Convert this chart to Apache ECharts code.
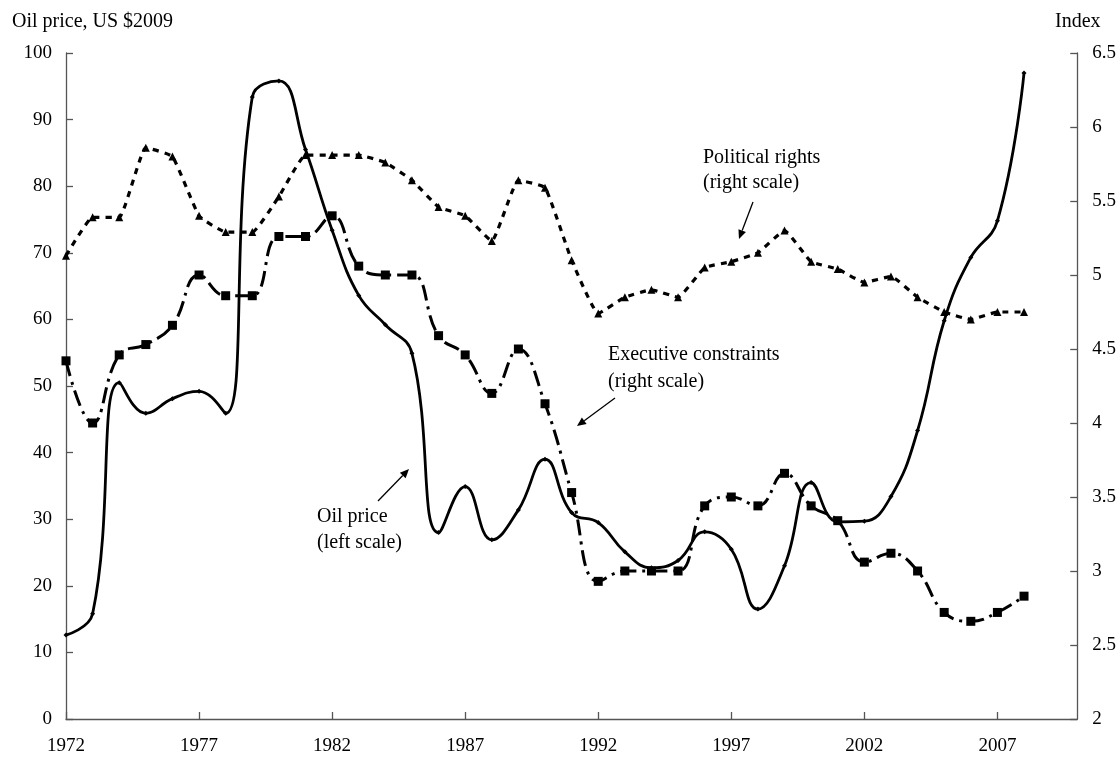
<!DOCTYPE html>
<html>
<head>
<meta charset="utf-8">
<script src="https://cdn.jsdelivr.net/npm/echarts@6/dist/echarts.min.js"></script>
<style>
  html, body { margin: 0; padding: 0; background: #fff; }
  #chart { width: 1119px; height: 757px; }
</style>
</head>
<body>
<div id="chart"></div>
<script>
// years on the axis (data stops at 2008, axis runs to 2010)
var years = []
for (var y = 1972; y <= 2010; y++) years.push(String(y))

// oil price, US $2009 (left scale)
var oilPrice = [12.6, 15.8, 50.5, 45.9, 48.1, 49.2, 45.9, 93.4, 95.8, 85.5,
  73.4, 63.6, 59.2, 54.9, 28.0, 34.9, 26.9, 31.4, 39.0, 31.0,
  29.5, 25.1, 22.7, 23.8, 28.1, 25.5, 16.5, 23.0, 35.5, 29.6,
  29.7, 33.4, 43.3, 59.8, 69.3, 74.8, 97.0]

// executive constraints index (right scale)
var execConstraints = [4.42, 4.0, 4.46, 4.53, 4.66, 5.0, 4.86, 4.86, 5.26, 5.26,
  5.40, 5.06, 5.0, 5.0, 4.59, 4.46, 4.2, 4.50, 4.13, 3.53,
  2.93, 3.0, 3.0, 3.0, 3.44, 3.5, 3.44, 3.66, 3.44, 3.34,
  3.06, 3.12, 3.0, 2.72, 2.66, 2.72, 2.83]

// political rights index (right scale)
var politicalRights = [5.13, 5.39, 5.39, 5.86, 5.80, 5.40, 5.29, 5.29, 5.53, 5.81,
  5.81, 5.81, 5.76, 5.64, 5.46, 5.40, 5.23, 5.64, 5.59, 5.10,
  4.74, 4.85, 4.90, 4.85, 5.05, 5.09, 5.15, 5.30, 5.09, 5.04,
  4.95, 4.99, 4.85, 4.75, 4.70, 4.75, 4.75]

var FONT = '"Liberation Serif", "Times New Roman", serif'
var AXIS_COLOR = '#555'

// annotation: arrow from (x1,y1) to (x2,y2)
function arrow(x1, y1, x2, y2) {
  var ang = Math.atan2(y2 - y1, x2 - x1), len = 9, w = 4
  var bx = x2 - len * Math.cos(ang), by = y2 - len * Math.sin(ang)
  return [
    { type: 'line', shape: { x1: x1, y1: y1, x2: bx, y2: by }, style: { stroke: '#000', lineWidth: 1.3 } },
    { type: 'polygon', shape: { points: [[x2, y2],
        [bx + w * Math.sin(ang), by - w * Math.cos(ang)],
        [bx - w * Math.sin(ang), by + w * Math.cos(ang)]] }, style: { fill: '#000' } }
  ]
}
function label(x, y, txt, lh) {
  return { type: 'text', x: x, y: y, style: { text: txt, font: '20px ' + FONT, fill: '#000', textAlign: 'left', textVerticalAlign: 'middle', lineHeight: lh || 25 } }
}

var chart = echarts.init(document.getElementById('chart'))

var graphics = [
  label(12, 22, 'Oil price, US $2009'),
  label(1055, 22, 'Index'),
  label(703, 170, 'Political rights\n(right scale)', 25),
  label(608, 368, 'Executive constraints\n(right scale)', 27),
  label(317, 530, 'Oil price\n(left scale)', 26)
].concat(arrow(753, 202, 739, 239))
 .concat(arrow(615, 398, 577, 426))
 .concat(arrow(378, 501, 409, 469))

var axisLine = { show: true, lineStyle: { color: AXIS_COLOR, width: 1.3 } }
var tickStyle = { color: AXIS_COLOR, width: 1.3 }

var option = {
  animation: false,
  backgroundColor: '#fff',
  grid: { left: 66, right: 41, top: 53, bottom: 38, containLabel: false },
  xAxis: {
    type: 'category',
    data: years,
    boundaryGap: false,
    axisLine: axisLine,
    axisTick: { show: true, inside: true, length: 7, interval: 4, lineStyle: tickStyle },
    axisLabel: { color: '#000', fontFamily: FONT, fontSize: 19, interval: 4, margin: 18 },
    splitLine: { show: false }
  },
  yAxis: [
    {
      type: 'value', min: 0, max: 100, interval: 10, position: 'left',
      axisLine: axisLine,
      axisTick: { show: true, inside: true, length: 7, lineStyle: tickStyle },
      axisLabel: { color: '#000', fontFamily: FONT, fontSize: 19, margin: 14 },
      splitLine: { show: false }
    },
    {
      type: 'value', min: 2, max: 6.5, interval: 0.5, position: 'right',
      axisLine: axisLine,
      axisTick: { show: true, inside: true, length: 7, lineStyle: tickStyle },
      axisLabel: { color: '#000', fontFamily: FONT, fontSize: 19, margin: 15 },
      splitLine: { show: false }
    }
  ],
  series: [
    {
      name: 'Political rights',
      type: 'line',
      yAxisIndex: 1,
      data: politicalRights,
      smooth: 0.12,
      symbol: 'triangle',
      symbolSize: 8,
      itemStyle: { color: '#000' },
      lineStyle: { color: '#000', width: 3.2, type: [6, 6] }
    },
    {
      name: 'Executive constraints',
      type: 'line',
      yAxisIndex: 1,
      data: execConstraints,
      smooth: 0.45,
      symbol: 'rect',
      symbolSize: 9,
      itemStyle: { color: '#000' },
      lineStyle: { color: '#000', width: 3, type: [16, 6, 3, 6] }
    },
    {
      name: 'Oil price',
      type: 'line',
      yAxisIndex: 0,
      data: oilPrice,
      smooth: 0.45,
      symbol: 'diamond',
      symbolSize: 5,
      itemStyle: { color: '#000' },
      lineStyle: { color: '#000', width: 2.8 }
    }
  ],
  graphic: graphics
}

chart.setOption(option)
</script>
</body>
</html>
